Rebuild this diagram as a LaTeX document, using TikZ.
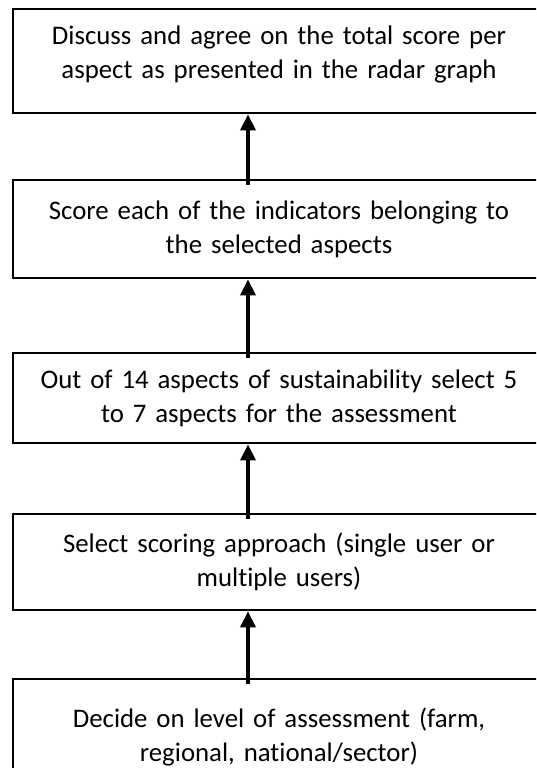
\documentclass[tikz,border=0pt]{standalone}
\usepackage{fontspec}
\setmainfont{Carlito}[Ligatures=NoCommon]
\usetikzlibrary{arrows.meta, positioning, calc}
\definecolor{Ink}{HTML}{000000}

\begin{document}
\begin{tikzpicture}[
  x=1pt, y=-1pt,
  font=\fontsize{26.8}{34}\selectfont,
  stage/.style={
    rectangle,
    draw=Ink,
    line width=2.8pt,
    fill=white,
    align=center,
    text=Ink,
    text width=524pt,
    minimum width=532pt,
    inner sep=0pt
  },
  uparrow/.style={
    -{Triangle[length=16pt,width=15pt]},
    line width=3.6pt,
    draw=Ink
  }
]

\useasboundingbox (0,0) rectangle (536,768);
\clip (0,0) rectangle (536,768);

\node[stage, minimum height=104pt, text height=19pt, text depth=51pt] (agree) at (279,61)
  {Discuss and agree on the total score per\\aspect as presented in the radar graph};
\node[stage, minimum height=98pt] (score) at (279,229)
  {Score each of the indicators belonging to\\the selected aspects};
\node[stage, minimum height=90pt] (aspects) at (279,398)
  {Out of 14 aspects of sustainability select 5\\to 7 aspects for the assessment};
\node[stage, minimum height=96pt] (approach) at (279,562)
  {Select scoring approach (single user or\\multiple users)};
\node[stage, minimum height=116pt] (level) at (279,737)
  {Decide on level of assessment (farm,\\regional, national/sector)};

\draw[uparrow] ($(score.north)+(-31,6)$) -- ($(agree.south)+(-31,0)$);
\draw[uparrow] ($(aspects.north)+(-31,6)$) -- ($(score.south)+(-31,0)$);
\draw[uparrow] ($(approach.north)+(-31,6)$) -- ($(aspects.south)+(-31,0)$);
\draw[uparrow] ($(level.north)+(-31,6)$) -- ($(approach.south)+(-31,0)$);

\end{tikzpicture}
\end{document}
